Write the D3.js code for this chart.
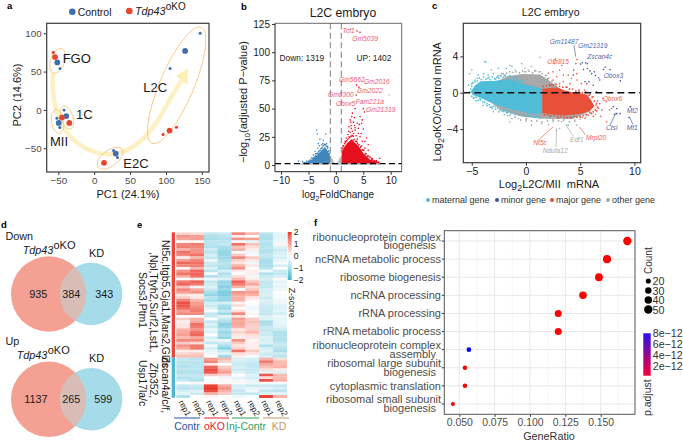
<!DOCTYPE html>
<html><head><meta charset="utf-8">
<script src="https://cdn.jsdelivr.net/npm/d3@7"></script>
<style>html,body{margin:0;padding:0;background:#fff}svg{display:block}text{font-family:"Liberation Sans",Arial,sans-serif}</style>
</head><body><svg id="c" width="683" height="444"></svg>
<script>
// ---------- panel a : PCA ----------
const pcaXTicks=[-50,0,50,100,150], pcaYTicks=[-50,0,50,100];
const ctrlBig=[[-51.4,62],[126.7,77],[-39,-8],[-49.5,-17],[30,-57]];
const ctrlSmall=[[-47.7,54],[147.7,100],[105.8,54],[-42,0],[-52,-11],[-48,-23],[27,-53],[32.5,-62]];
const okoBig=[[-54.6,69],[105,-27],[-34.7,-17],[-45,-10],[13.7,-69]];
const okoSmall=[[-57,75],[96,-32],[114.6,-22.6]];
const pcaTrail=[[-57.9,48.7],[-56,13],[-45.3,-19.6],[-19.8,-45.7],[17.4,-57.8],[54.7,-47.8],[82.6,-21.7],[110.5,21.7],[122,39]];
const pcaHead=[[130.5,54.3],[114.2,44.3],[130,32.6]];
const pcaStages=[["FGO",-44,61],["1C",-25.3,-11.8],["L2C",68.5,23.9],["MII",-61.6,-46.6],["E2C",40.6,-75.3]];
const pcaRings=[[-51,64,7,13,20],[-38,-10,6,12,-18],[-51,-15,6,12,-8],[22,-63,15,8,-37],[115,32,17,63,23]];
// ---------- panel b : volcano ----------
const volXTicks=[-10,-5,0,5,10], volYTicks=[0,25,50,75,100,125];
const volGrayArea=[[-6.5,0.2],[-6.5,1.3],[-1,1.3],[-0.8,8],[-0.4,3],[0,0.6],[0.4,3],[0.8,8],[1,1.3],[8,1.3],[8,0.2]];
const volBlueArea=[[-1,1.3],[-1.05,8],[-1.4,12],[-2,16],[-2.6,13],[-3.5,8.5],[-4.3,4.5],[-5.2,2.2],[-6.2,1.3]];
const volRedArea=[[1,1.3],[1.07,11],[1.4,15],[2,19],[2.9,23],[3.4,20],[4.1,17],[5,10.5],[6.2,5],[7.8,2.2],[8,1.3]];
const volBluePts=[[-3.5,31],[-3.4,27.5],[-1.85,27.5],[-2.9,23],[-2.3,22],[-3.2,19],[-2.6,18],[-1.7,19],[-3.3,15],[-3.8,12],[-4.1,9],[-4.7,4.5],[-6.8,3.5],[-6.1,3],[-5.3,3.5],[-5,2],[-3,17],[-2.4,19],[-1.5,16.5],[-3.7,10],[-4.4,6.5],[-5.7,2.2],[-4.9,3.8]];
const volBlueEdge=[[-1.15,10],[-1.3,12.5],[-1.5,15],[-1.7,16.5],[-1.9,18],[-2.1,18.2],[-2.3,17],[-2.5,15.5],[-2.7,14.5],[-2.9,13],[-3.1,12],[-3.3,10.5],[-3.5,10],[-3.7,8],[-3.9,7],[-4.1,6.2],[-4.3,5.5],[-4.5,4.2],[-4.7,3.3],[-5,2.8],[-5.4,2.3],[-5.8,1.8]];
const volRedPts=[[3.87,118.8],[4.4,117.6],[3.8,71],[4.2,69],[3.7,62],[3.5,50],[3,46],[5,50],[5.2,47],[3.4,42],[4.4,43],[2.9,43],[4.8,40],[2.6,40],[3.2,38],[2.8,35],[3.4,35],[4.7,37],[2.8,32.5],[3.5,31],[4.1,32.5],[5,32],[3.2,28],[4.4,25],[5.3,21],[5.9,18],[5.9,13],[5.6,24],[4.8,21],[5.3,15],[6.5,6],[8,6],[7.2,3],[3.8,21],[4.1,28],[2.4,34],[2.2,27],[2.6,29],[3,30],[3.7,26],[4.6,28],[4.7,17],[5.1,13],[1.7,21],[1.9,24],[1.3,17],[2.4,25],[3.2,25.5],[3.9,23],[6.7,5.5],[7.4,4],[6,8],[5.5,10],[3.5,33],[2.7,38],[4.3,36],[3.9,37],[2.3,30]];
const volRedEdge=[[1.1,13],[1.2,15],[1.4,17],[1.6,19],[1.8,20.5],[2,21.5],[2.2,23],[2.5,24.5],[2.8,25.5],[3,26],[3.3,22.5],[3.6,21],[3.9,19.5],[4.2,18],[4.5,16],[4.8,13.5],[5,13],[5.4,10],[5.8,8],[6.2,7],[6.6,5],[7,4],[7.4,3.2],[7.8,2.5]];
const volCyanPts=[[9.7,62]];
const volDownLabel="Down: 1319", volUpLabel="UP: 1402";
const volGenes=[["Tcf1",1.2,116.7],["Gm5039",3.0,110],["Gm5662",0.58,73.3],["Gm2016",5.14,71.8],["Gm2022",3.87,63.5],["Gm8300",-1.42,60],["Obox5",0,52],["Fam221a",3.62,54],["Gm21319",5.5,47.3]];
// ---------- panel c : MA ----------
const maXTicks=[-5,0,5,10], maYTicks=[-4,0,4];
const maGrayArea=[[-3,1.1],[-1.6,1.85],[-0.3,2.05],[1.3,2.0],[2.2,1.3],[3.2,0.4],[6,-2],[4.3,-2.9],[1.6,-2.85],[-0.3,-2.65],[-2.1,-2.0],[-3,-1.3]];
const maBlueArea=[[-5.1,0.1],[-4.7,0.8],[-4.2,1.25],[-3,1.3],[-1.5,1.5],[-0.3,1.0],[0.6,0.75],[1.45,0.45],[1.45,-2.35],[0.3,-2.3],[-0.3,-2.1],[-1.5,-1.8],[-3,-1.25],[-4.2,-0.55],[-4.9,-0.25]];
const maRedArea=[[1.5,0.45],[2.5,0.55],[2.8,0.6],[3.6,0.25],[4.3,0.05],[5.6,-0.2],[6,-0.8],[6.3,-1.5],[5.9,-2],[5,-2.35],[3.5,-2.5],[1.5,-2.25]];
const maCyanPts=[[-3.7,3.4],[-3.8,3.4],[-5,2.5],[-5.2,2.1],[-4.4,1.94],[-3.2,2.5],[-2.55,2.7],[-1.8,2.7],[-1.5,3],[-1.3,2.9],[-2.25,2.1],[-1.94,1.94],[-3,2.1],[-3.5,1.94],[-3.9,2.1],[-4.7,1.4],[-5.3,0.84],[-5.2,0.1],[-4.86,-0.6],[-4.24,-0.63],[-3.94,-1.4],[-3.6,-1.2],[-3,-2.1],[-2.86,-1.55],[-2.1,-2.1],[-1.2,-1.9],[2.8,-4.1],[3.75,-3.57],[-4.5,1.6],[-3.4,1.7],[-2.6,1.8],[-4.9,-0.1],[-4.6,-0.9],[-3.3,-1.6],[-2.4,-1.9],[-1.7,-2.2],[-0.8,-2.4],[-5,1],[-3.1,-1.7],[-2,1.9],[-1,1.8]];
const maCyanEdge=[[-5.1,0.4],[-5,0.7],[-4.9,1.1],[-4.7,1.2],[-4.5,1.3],[-4.3,1.6],[-4.1,1.45],[-3.9,1.7],[-3.7,1.5],[-3.5,1.6],[-3.3,1.45],[-3.1,1.75],[-2.9,1.55],[-2.7,1.7],[-2.5,1.6],[-2.3,1.85],[-2.1,1.7],[-1.9,1.8],[-1.7,1.7],[-1.5,1.85],[-1.3,1.7],[-1.1,1.5],[-0.9,1.55],[-0.7,1.3],[-0.5,1.35],[-0.3,1.25],[-5,-0.4],[-4.8,-0.55],[-4.6,-0.5],[-4.4,-0.85],[-4.2,-0.8],[-4,-1],[-3.8,-1.05],[-3.6,-1.4],[-3.4,-1.3],[-3.2,-1.6],[-3,-1.5],[-2.8,-1.8],[-2.6,-1.7],[-2.4,-1.85],[-2.2,-2],[-2,-1.95],[-1.8,-2.2],[-1.6,-2.05],[-1.4,-2.3],[-1.2,-2.15],[-1,-2.4],[-0.8,-2.3],[-0.6,-2.45],[-0.4,-2.5],[-0.2,-2.4],[0,-2.6],[0.2,-2.5],[0.4,-2.6],[0.6,-2.55],[0.8,-2.7],[1,-2.55],[1.2,-2.7]];
const maGrayPts=[[1.3,3.9],[-0.1,2.7],[0.2,2.5],[-0.1,2.3],[-1,2.5],[1.3,2.3],[-1.3,-2.84],[-1.5,-3.2],[0.5,-3.57],[1.3,-2.84],[1.45,-3.4],[2.5,-3.2],[3.1,-3.94],[3.9,-3.57],[4.7,-3.57],[-0.7,-2.84],[0.06,-2.84],[0.8,2.4],[1.9,1.9],[-0.4,3.2],[0.5,2.9],[-1.7,-2.5],[2.1,-3.5],[5,-2.9],[5.5,-2.7],[5.7,-1.9],[6.4,-2.4],[4.5,-3],[3.3,-3.2],[0,-3.1]];
const maGrayEdge=[[-2.8,1.5],[-2.5,1.9],[-2.1,2.1],[-1.8,2.15],[-1.5,2.3],[-1.2,2.25],[-0.9,2.3],[-0.6,2.2],[-0.3,2.4],[0,2.3],[0.3,2.35],[0.6,2.2],[0.9,2.4],[1.2,2.3],[1.5,2.1],[1.8,1.9],[2.1,1.6],[2.4,1.3],[2.7,1],[-2.5,-2.1],[-2,-2.4],[-1.5,-2.5],[-1,-2.7],[-0.5,-3],[0,-2.95],[0.5,-3.1],[1,-3.1],[1.5,-3.2],[2,-3.1],[2.5,-3],[3,-3.1],[3.5,-3],[4,-3.2],[4.5,-3.1],[5,-2.7],[5.5,-2.4],[6,-2.2]];
const maRedPts=[[4.7,3.66],[4.6,3.2],[7.9,-1.74],[7.7,-1.9],[7.44,-3.2],[7.4,-1],[7.1,-0.64],[6.8,-1.2],[7,-1.9],[6.7,-1.74],[6.2,-0.45],[6.46,-1.37],[6,-1.56],[5.75,-2.47],[5.44,-2.84],[6.06,-2.3],[9.66,-1.55],[5.6,1],[5.1,1],[2.06,2.13],[2.5,2.3],[3.1,2.5],[3.45,1.94],[2.83,1.76],[3.9,1.94],[4.2,1.6],[4.7,1.4],[3.45,1.2],[2.5,1.4],[3.1,1],[4.06,1],[4.7,2.1],[2.37,0.84],[2,1.5],[2.2,0.9],[3.8,0.6],[4.9,0.3],[5.4,0.3],[5.9,-0.2],[6.6,-0.9],[6.5,-2],[5.2,-2.7],[4.2,-2.8],[3,-2.8],[2.2,-2.6],[2.7,3.7],[2.6,3.2],[3.3,3],[6.2,-2.6],[6.9,-2.6]];
const maRedEdge=[[1.6,0.7],[1.9,0.75],[2.2,0.8],[2.5,0.8],[2.8,0.9],[3.1,0.7],[3.4,0.6],[3.7,0.6],[4,0.4],[4.3,0.4],[4.6,0.2],[4.9,0.2],[5.2,0],[5.5,0.1],[5.8,-0.3],[6.1,-0.5],[6.3,-0.9],[6.5,-1.2],[6.6,-1.6],[6.4,-1.9],[6.2,-2.1],[5.9,-2.2],[5.6,-2.4],[5.3,-2.5],[5,-2.6],[4.7,-2.7],[4.4,-2.6],[4.1,-2.7],[3.8,-2.75],[3.5,-2.7],[3.2,-2.6],[2.9,-2.6],[2.6,-2.45],[2.3,-2.5],[2,-2.4],[1.7,-2.45]];
const maNavyPts=[[5.04,3.15],[5.2,3.3],[5.5,3.3],[5.66,3.2],[4.4,2.5],[5.3,2.56],[5.66,2.67],[5.9,2.4],[6.3,2.3],[6.06,2.1],[6.4,1.9],[6.7,1.64],[6.8,1.4],[7.3,2.8],[7.15,2.56],[7.75,2.56],[8.7,1.3],[4.37,1.94],[5.44,1.2],[5.8,1.2],[6.2,0.83],[6.5,0.1],[7.6,0],[8.6,0],[8.37,-1.74],[8.37,-2.3],[8.67,-2.3],[8.15,-2.4],[9.6,-1.55],[9.5,-2.73],[8.06,-1.55]];
const maGenes=[["Gm11487",2.2,5.66,"n"],["Gm21319",4.83,5.18,"n"],["Zscan4c",5.66,3.97,"n"],["Olfr815",1.97,3.38,"r"],["Obox3",7.17,1.91,"n"],["Obox6",7.08,-0.66,"r"],["Mt2",9.29,-1.99,"n"],["Mt1",9.29,-3.82,"n"],["Ctsl",7.38,-3.86,"n"],["Mrpl20",5.54,-4.93,"r"],["Edf1",4.06,-5.15,"g"],["Nt5c",0.68,-5.51,"r"],["Ndufa12",1.54,-6.32,"g"]];
const maLeaders=[[4.43,5.26,4.58,3.97,"n"],[7.75,-3.57,8.3,-2.2,"n"],[9.54,-2.65,9.85,-3.46,"n"],[5.5,-4.67,4.9,-3.75,"r"],[4.37,-4.78,3.75,-3.68,"g"],[1.14,-5.22,2.52,-3.75,"r"],[2.77,-5.96,2.83,-3.93,"g"]];
const maLegend=[["maternal gene","#4fbcd8"],["minor gene","#3f5596"],["major gene","#e8503a"],["other gene","#a8a8a8"]];
// ---------- panel d : Venn ----------
const vennDown=[935,384,343], vennUp=[1137,265,599];
// ---------- panel e : heatmap ----------
const heatCols=["rep1","rep2","rep1","rep2","rep1","rep2","rep1","rep2"];
const heatGroups=["Contr","oKO","Inj-Contr","KD"];
const heatUpGenes=["Nt5c,Itgb5,Gja1,Mars2,Gldc",",Npl,Ttyh2,Surf2,Lst1,","Socs3,Ptm1"];
const heatDownGenes=["Zscan4a/c/f,","Zfp352,","Usp17la/c"];
const heatRows=[
[0.5,0.4,-0.7,-0.6,1.3,0.8,-0.8,-0.3],[1.2,1.1,-0.9,-0.8,0.2,0.0,-0.9,-0.3],[1.0,1.1,-1.0,-0.9,1.2,1.1,-1.0,-0.3],[0.1,0.1,-0.8,-0.8,-0.1,-0.3,-0.8,-0.2],
[1.3,1.4,-0.8,-0.7,1.5,0.7,-0.9,0.1],[1.4,1.3,-0.9,-1.0,0.7,0.4,-0.8,-0.4],[0.9,1.2,-0.6,-1.1,0.9,0.2,-0.9,-0.6],[1.5,1.2,-0.8,-1.2,-0.1,-0.2,-0.9,-0.5],
[1.3,1.5,-0.5,-1.2,0.6,-0.1,-0.7,-0.4],[0.2,0.8,-0.7,-1.1,1.3,0.6,-0.8,-0.5],[1.1,1.3,-0.2,-1.0,0.5,0.3,-1.0,-0.3],[1.6,1.5,-0.6,-0.8,0.3,-0.2,-1.0,-0.1],
[1.3,1.4,-0.7,-0.9,0.9,0.3,-1.0,-0.5],[0.1,0.8,-0.4,-1.0,1.2,0.0,-0.8,0.0],[1.2,1.6,-0.8,-0.5,0.2,0.2,-0.2,-0.6],[1.5,1.6,-0.1,-0.9,-0.1,0.2,-0.9,-0.7],
[1.0,1.5,-0.9,-0.7,0.4,-0.2,-0.6,-0.5],[0.0,0.2,-0.2,-0.4,0.8,0.2,-0.5,0.1],[1.4,1.6,-0.7,-1.2,1.6,0.7,-0.7,-0.3],[1.6,1.4,-0.6,-1.1,1.4,1.0,-0.7,-0.2],
[0.7,0.1,-0.4,-1.3,0.9,0.4,-0.7,-0.3],[1.3,1.0,-0.7,-1.2,0.0,0.7,-0.5,-0.2],[1.1,1.2,-1.0,-1.4,1.2,1.1,-0.5,0.0],[0.3,0.2,-1.2,-1.4,1.0,0.9,-0.4,-0.1],
[0.6,0.3,-0.8,-1.2,0.9,0.3,-0.6,-0.1],[1.3,0.8,-1.0,-1.2,0.9,0.1,-0.4,-0.2],[1.8,1.1,-0.5,-0.5,0.1,0.0,-0.5,-0.2],[1.7,1.2,-0.6,-1.0,0.4,-0.1,-0.6,-0.4],
[1.5,1.3,-0.4,-1.1,0.0,-0.2,-0.6,-0.4],[1.1,1.4,-0.1,-0.7,0.4,-0.1,-0.7,-0.3],[1.3,1.3,-0.7,-1.1,1.3,0.1,-0.7,-0.5],[0.0,0.0,-0.6,-0.3,0.3,0.0,-0.4,-0.2],
[0.6,0.9,0.0,-0.7,1.1,0.6,-0.4,-0.3],[0.2,1.0,-0.7,-1.0,1.0,0.7,-1.0,-0.3],[0.3,1.5,-0.4,-1.3,1.0,0.6,-0.9,-0.3],[0.3,1.4,-0.6,-1.2,0.9,0.5,-0.7,-0.4],
[0.9,1.2,-0.3,-0.9,0.3,0.6,-0.7,-0.6],[1.0,1.5,-0.4,-1.1,0.5,0.8,-0.6,-0.9],[1.1,1.6,0.0,-1.0,0.3,0.4,-0.6,-0.9],[0.8,1.0,-0.5,-1.2,0.2,0.3,-0.4,-0.9],
[1.3,1.3,-0.3,-0.2,1.2,0.1,-0.5,-0.9],[0.6,0.4,-0.7,-0.6,0.6,0.2,-0.4,-0.7],[1.2,1.4,-0.2,-1.0,0.3,0.2,-0.9,-0.7],[1.0,1.4,-0.5,-1.3,0.5,0.2,-0.5,-0.8],
[0.2,0.2,-0.3,-0.6,1.5,0.6,-0.4,-1.0],[0.5,0.6,-0.2,-0.4,0.4,0.3,-0.6,-0.6],[0.7,0.7,0.0,-1.1,0.2,-0.1,-0.5,-0.8],
[-0.7,-0.8,1.1,0.8,-0.4,-0.5,0.9,0.4],[-0.8,-0.8,1.3,0.5,-0.5,-0.6,1.4,0.8],[-0.8,-0.8,0.3,0.0,-0.6,-0.7,1.0,0.8],[-0.9,-0.8,1.6,0.6,-0.5,-0.7,0.7,0.9],
[-0.8,-0.8,1.8,0.9,-0.6,-0.7,0.4,0.2],[-0.9,-0.9,1.7,1.1,-0.4,-0.6,-0.3,-0.4],[-0.7,-0.7,0.6,0.5,0.0,-0.4,1.7,0.8],[-0.9,-0.8,0.0,-0.2,-0.3,-0.5,0.4,0.8],
[-0.7,-0.9,-0.1,0.1,-0.2,-0.3,1.8,0.9],[0.0,0.1,0.1,-0.1,0.1,-0.2,-0.1,0.0],[-0.7,-0.6,1.9,1.0,-0.5,-0.6,-0.6,-0.7],[-0.8,-0.8,2.0,1.2,-0.5,-0.3,-0.4,-0.5],
[-0.5,-0.4,1.8,0.9,-0.7,-0.2,-0.7,-0.8],[-0.3,-0.6,0.9,0.6,-0.6,-0.7,-0.4,-0.3],[-0.9,0.0,0.1,0.0,-0.2,-0.1,1.9,0.9]];
// ---------- panel f : GO dotplot ----------
const goTerms=[["ribonucleoprotein complex","biogenesis"],["ncRNA metabolic process"],["ribosome biogenesis"],["ncRNA processing"],["rRNA processing"],["rRNA metabolic process"],["ribonucleoprotein complex","assembly"],["ribosomal large subunit","biogenesis"],["cytoplasmic translation"],["ribosomal small subunit","biogenesis"]];
const goRatio=[0.1689,0.1545,0.1488,0.1375,0.12,0.12,0.0568,0.054,0.054,0.0455];
const goCount=[50,46,44,41,36,36,17,16,16,13];
const goPadj=[1e-13,1e-13,1e-13,1e-13,2e-13,2e-13,8.5e-12,4e-13,3e-13,2e-13];
const goXTicks=[0.05,0.075,0.1,0.125,0.15];
const goXMinor=[0.0625,0.0875,0.1125,0.1375,0.1625];
const goCountLegend=[20,30,40,50];
const goPadjLegend=[2e-12,4e-12,6e-12,8e-12];

const svg=d3.select("#c");
function T(x,y,s,o={}){const e=svg.append("text").attr("x",x).attr("y",y).attr("font-size",o.fs||10).attr("fill",o.fill||"#1a1a1a")
  .attr("text-anchor",o.a||"start").text(s);
  if(o.i)e.attr("font-style","italic"); if(o.b)e.attr("font-weight","bold");
  if(o.r!=null)e.attr("transform",`rotate(${o.r} ${x} ${y})`); return e;}
function frame(X,Y,xt,yt,fs,col,fmt){
  const [x0,x1]=X.range(),[y1,y0]=Y.range();
  const ax=svg.append("g").attr("transform",`translate(0,${y1})`).call(d3.axisBottom(X).tickValues(xt).tickSize(3).tickPadding(2).tickFormat(fmt||null));
  const ay=svg.append("g").attr("transform",`translate(${x0},0)`).call(d3.axisLeft(Y).tickValues(yt).tickSize(3).tickPadding(2));
  [ax,ay].forEach(a=>{a.select(".domain").remove();a.selectAll("line").attr("stroke","#333");a.selectAll("text").attr("font-size",fs).attr("fill",col).attr("font-family",'"Liberation Sans",Arial,sans-serif');});
}
function border(X,Y){const [x0,x1]=X.range(),[y1,y0]=Y.range();
  svg.append("rect").attr("x",x0).attr("y",y0).attr("width",x1-x0).attr("height",y1-y0).attr("fill","none").attr("stroke","#3a3a3a").attr("stroke-width",1.2);}
function dots(data,X,Y,r,fill){svg.append("g").selectAll("circle").data(data).join("circle").attr("cx",d=>X(d[0])).attr("cy",d=>Y(d[1])).attr("r",r).attr("fill",fill);}
function area(data,X,Y,fill){svg.append("path").datum(data).attr("d",d3.line().x(d=>X(d[0])).y(d=>Y(d[1])).curve(d3.curveLinearClosed)).attr("fill",fill);}
[["a",7,9],["b",241,10],["c",432,9],["d",1,228],["e",137,228],["f",314,226]].forEach(d=>T(d[1],d[2],d[0],{fs:9.5,b:1,fill:"#000"}));

// --- a
{const X=d3.scaleLinear([-66.2,160],[46.7,209]),Y=d3.scaleLinear([-81,113],[172,23.3]);
 svg.append("path").datum(pcaTrail).attr("d",d3.line().x(d=>X(d[0])).y(d=>Y(d[1])).curve(d3.curveCatmullRom)).attr("fill","none").attr("stroke","#fdf1c4").attr("stroke-width",4.5);
 area(pcaHead,X,Y,"#fdeeb4");
 pcaRings.forEach(r=>svg.append("ellipse").attr("cx",0).attr("cy",0).attr("rx",r[2]).attr("ry",r[3]).attr("transform",`translate(${X(r[0])},${Y(r[1])}) rotate(${r[4]})`).attr("fill","none").attr("stroke","#f6c57c").attr("stroke-width",0.8));
 dots(ctrlSmall,X,Y,1.5,"#3d6fb0");dots(ctrlBig,X,Y,2.9,"#3d6fb0");dots(okoSmall,X,Y,1.6,"#e8452f");dots(okoBig,X,Y,2.9,"#e8452f");
 frame(X,Y,pcaXTicks,pcaYTicks,9.8,"#4d4d4d");border(X,Y);
 pcaStages.forEach(s=>T(X(s[1]),Y(s[2]),s[0],{fs:13}));
 svg.append("circle").attr("cx",72.3).attr("cy",11.7).attr("r",3.3).attr("fill","#3d6fb0");
 T(77.7,15.5,"Control",{fs:10.5});
 svg.append("circle").attr("cx",129.3).attr("cy",11).attr("r",3.3).attr("fill","#e8452f");
 T(135,14.5,"Tdp43",{fs:10.8,i:1});T(165.7,9.5,"oKO",{fs:10});
 T(128,198,"PC1 (24.1%)",{fs:11,a:"middle"});T(21,95,"PC2 (14.6%)",{fs:11,a:"middle",r:-90});
}
// --- b
{const X=d3.scaleLinear([-11.1,12],[275,401.7]),Y=d3.scaleLinear([-5.9,125.6],[171.7,23.3]);
 area(volGrayArea,X,Y,"#bdbdbd");area(volBlueArea,X,Y,"#3f86bf");area(volRedArea,X,Y,"#e60f1e");
 dots(volBluePts,X,Y,0.8,"#3f86bf");dots(volBlueEdge,X,Y,0.9,"#3f86bf");dots(volRedPts,X,Y,0.8,"#e60f1e");dots(volRedEdge,X,Y,0.9,"#e60f1e");dots(volCyanPts,X,Y,0.8,"#63c6e8");
 [-1,1].forEach(v=>svg.append("line").attr("x1",X(v)).attr("x2",X(v)).attr("y1",23.3).attr("y2",171.7).attr("stroke","#999").attr("stroke-width",1.3).attr("stroke-dasharray","6 3.5"));
 svg.append("line").attr("x1",275).attr("x2",401.7).attr("y1",Y(1.3)).attr("y2",Y(1.3)).attr("stroke","#000").attr("stroke-width",1.3).attr("stroke-dasharray","6 3.5");
 frame(X,Y,volXTicks,volYTicks,10,"#1a1a1a");
 svg.append("path").attr("d","M275,23.3V171.7H401.7").attr("fill","none").attr("stroke","#222").attr("stroke-width",1);
 svg.append("path").attr("d","M275,23.3H401.7V171.7").attr("fill","none").attr("stroke","#444").attr("stroke-width",0.8);
 T(343,16.7,"L2C embryo",{fs:12.2,a:"middle"});
 T(279.5,60.7,volDownLabel,{fs:8.4});T(356.5,60.7,volUpLabel,{fs:8.4});
 volGenes.forEach(g=>T(X(g[1]),Y(g[2]),g[0],{fs:6.7,i:1,fill:"#f0566d"}));
 const yl=T(247,102,"",{fs:11,a:"middle",r:-90});
 yl.append("tspan").text("−log");yl.append("tspan").attr("dy",3).attr("font-size",8).text("10");yl.append("tspan").attr("dy",-3).text("(adjusted P−value)");
 const xl=T(338,198,"",{fs:10,a:"middle"});
 xl.append("tspan").text("log");xl.append("tspan").attr("dy",2.5).attr("font-size",7.5).text("2");xl.append("tspan").attr("dy",-2.5).text("FoldChange");
}
// --- c
{const X=d3.scaleLinear([-5.78,10.58],[463.3,640.7]),Y=d3.scaleLinear([-7.7,7.64],[162.7,23.3]);
 const col={n:"#5566a5",r:"#ee6450",g:"#a9a9a9"};
 area(maGrayArea,X,Y,"#a8a8a8");dots(maGrayPts,X,Y,0.8,"#a8a8a8");dots(maGrayEdge,X,Y,0.9,"#a8a8a8");
 area(maBlueArea,X,Y,"#4fbcd8");dots(maCyanPts,X,Y,0.8,"#4fbcd8");dots(maCyanEdge,X,Y,0.9,"#4fbcd8");
 area(maRedArea,X,Y,"#e8503a");dots(maRedPts,X,Y,0.8,"#e8503a");dots(maRedEdge,X,Y,0.9,"#e8503a");
 dots(maNavyPts,X,Y,0.8,"#3f5596");
 svg.append("line").attr("x1",463.3).attr("x2",640.7).attr("y1",Y(0)).attr("y2",Y(0)).attr("stroke","#111").attr("stroke-width",1.4).attr("stroke-dasharray","7 4");
 maLeaders.forEach(l=>svg.append("line").attr("x1",X(l[0])).attr("y1",Y(l[1])).attr("x2",X(l[2])).attr("y2",Y(l[3])).attr("stroke",col[l[4]]).attr("stroke-width",0.7));
 frame(X,Y,maXTicks,maYTicks,10.5,"#1a1a1a");border(X,Y);
 maGenes.forEach(g=>T(X(g[1]),Y(g[2])+2.4,g[0],{fs:6.6,i:1,fill:col[g[3]]}));
 T(550.7,15.7,"L2C embryo",{fs:10.6,a:"middle"});
 const yl=T(441,101.7,"",{fs:11,a:"middle",r:-90});
 yl.append("tspan").text("Log");yl.append("tspan").attr("dy",3).attr("font-size",9).text("2");yl.append("tspan").attr("dy",-3).text("oKO/Control mRNA");
 const xl=T(549,188,"",{fs:11,a:"middle"});
 xl.append("tspan").text("Log");xl.append("tspan").attr("dy",3).attr("font-size",9).text("2");xl.append("tspan").attr("dy",-3).text("L2C/MII\u00a0\u00a0mRNA");
 const lx=[428,497,552,608];
 maLegend.forEach((d,i)=>{svg.append("circle").attr("cx",lx[i]).attr("cy",200).attr("r",2).attr("fill",d[1]);T(lx[i]+4,203,d[0],{fs:9,fill:"#333"});});
}
// --- d
function venn(cy,vals,tx){const id="v"+Math.round(cy);
 svg.append("clipPath").attr("id",id).append("circle").attr("cx",48.7).attr("cy",cy).attr("r",37.7);
 svg.append("circle").attr("cx",48.7).attr("cy",cy).attr("r",37.7).attr("fill","#f4a093");
 svg.append("circle").attr("cx",91.2).attr("cy",cy).attr("r",31.2).attr("fill","#a6dcea");
 svg.append("circle").attr("cx",91.2).attr("cy",cy).attr("r",31.2).attr("fill","#d8bcb6").attr("clip-path",`url(#${id})`);
 vals.forEach((v,i)=>T(tx[i],cy+3.7,v,{fs:10.8,a:"middle"}));
}
venn(294,vennDown,[38.3,71.3,104.3]);venn(399.3,vennUp,[35.8,71.3,103.3]);
T(5.5,240,"Down",{fs:10.8});T(5.5,345,"Up",{fs:10.8});
T(22.7,254,"Tdp43",{fs:10.8,i:1});T(53.5,249,"oKO",{fs:11});T(89,257,"KD",{fs:11});
T(16.7,359,"Tdp43",{fs:10.8,i:1});T(47.7,354,"oKO",{fs:11});T(89,362,"KD",{fs:11});
// --- e
{const X=d3.scaleBand(d3.range(8),[176.3,286.7]),Y=d3.scaleBand(d3.range(heatRows.length),[232.3,397.7]);
 const C=d3.scaleLinear([-2,-1,0,1,2],["#48b4d0","#a9deeb","#ffffff","#f7a99e","#e8392e"]);
 svg.append("g").selectAll("g").data(heatRows).join("g").selectAll("rect").data((d,i)=>d.map((v,j)=>({v,i,j}))).join("rect")
  .attr("x",d=>X(d.j)).attr("y",d=>Y(d.i)).attr("width",X.bandwidth()+.3).attr("height",Y.bandwidth()+.3).attr("fill",d=>C(d.v));
 const split=Y(47);
 svg.append("rect").attr("x",171.7).attr("y",232.3).attr("width",3.3).attr("height",split-232.3).attr("fill","#e8473a");
 svg.append("rect").attr("x",171.7).attr("y",split).attr("width",3.3).attr("height",397.7-split).attr("fill","#4fb6d2");
 heatUpGenes.forEach((g,i)=>T([161.5,149.5,139][i],[240,252,272][i],g,{fs:10.4,r:90}));
 heatDownGenes.forEach((g,i)=>T([161.5,149.5,139][i],[356.5,363,360][i],g,{fs:10.4,r:90}));
 heatCols.forEach((c,i)=>T(X(i)+2,402,c,{fs:8.5,r:62}));
 const gx=[[174,200],[204,229],[232,259],[263,289]],gc=["#2e4fa3","#e8222a","#2fa05a","#c19a6b"],tx=[187,214.5,246,279];
 heatGroups.forEach((g,i)=>{svg.append("line").attr("x1",gx[i][0]).attr("x2",gx[i][1]).attr("y1",418).attr("y2",418).attr("stroke",gc[i]).attr("stroke-width",1);
  T(tx[i],430,g,{fs:10.4,a:"middle",fill:gc[i]});});
 const lg=svg.append("defs").append("linearGradient").attr("id","hl").attr("x1",0).attr("x2",0).attr("y1",1).attr("y2",0);
 d3.range(-2,2.01,.5).forEach(v=>lg.append("stop").attr("offset",(v+2)/4).attr("stop-color",C(v)));
 svg.append("rect").attr("x",287.7).attr("y",232).attr("width",4).attr("height",48).attr("fill","url(#hl)");
 [2,1,0,-1,-2].forEach((v,i)=>T(293.7,235+i*12,v===0?"0":(v<0?"−"+(-v):v),{fs:8.5}));
 T(289,287.7,"Z-score",{fs:8.9,r:90});
}
// --- f
{const X=d3.scaleLinear([0.0394,0.1743],[444.3,635]),Y=d3.scalePoint(d3.range(10),[230.7,414.3]).padding(0.57);
 goXMinor.forEach(v=>svg.append("line").attr("x1",X(v)).attr("x2",X(v)).attr("y1",230.7).attr("y2",414.3).attr("stroke","#f0f0f0").attr("stroke-width",0.6));
 goXTicks.forEach(v=>svg.append("line").attr("x1",X(v)).attr("x2",X(v)).attr("y1",230.7).attr("y2",414.3).attr("stroke","#e8e8e8").attr("stroke-width",1));
 goTerms.forEach((t,i)=>svg.append("line").attr("x1",444.3).attr("x2",635).attr("y1",Y(i)).attr("y2",Y(i)).attr("stroke","#e8e8e8").attr("stroke-width",1));
 const R=d3.scaleSqrt([13,50],[2,4.2]);
 const C=d3.scaleLinear([1e-13,8.5e-12],["#ff0000","#0000ff"]);
 svg.append("g").selectAll("circle").data(goRatio).join("circle").attr("cx",d=>X(d)).attr("cy",(d,i)=>Y(i)).attr("r",(d,i)=>R(goCount[i])).attr("fill",(d,i)=>C(goPadj[i]));
 const ax=svg.append("g").attr("transform","translate(0,414.3)").call(d3.axisBottom(X).tickValues(goXTicks).tickSize(2.5).tickPadding(2).tickFormat(d3.format(".3f")));
 ax.select(".domain").remove();ax.selectAll("line").attr("stroke","#333");ax.selectAll("text").attr("font-size",10.4).attr("fill","#4d4d4d").attr("font-family",'"Liberation Sans",Arial,sans-serif');
 goTerms.forEach((t,i)=>{svg.append("line").attr("x1",441.8).attr("x2",444.3).attr("y1",Y(i)).attr("y2",Y(i)).attr("stroke","#333");
  if(t.length===1)T(441,Y(i)+3.8,t[0],{fs:11,a:"end",fill:"#4d4d4d"});
  else{const e=T(441,Y(i)-0.5,"",{fs:11,a:"end",fill:"#4d4d4d"});
   e.append("tspan").attr("x",441).text(t[0]);e.append("tspan").attr("x",436).attr("dy",8.7).text(t[1]);}});
 svg.append("rect").attr("x",444.3).attr("y",230.7).attr("width",190.7).attr("height",183.6).attr("fill","none").attr("stroke","#555").attr("stroke-width",1);
 T(549,440,"GeneRatio",{fs:10.8,a:"middle",fill:"#333"});
 T(651.7,274,"Count",{fs:10,r:-90,fill:"#333"});
 goCountLegend.forEach((c,i)=>{svg.append("circle").attr("cx",648.3).attr("cy",281+i*9.5).attr("r",R(c)).attr("fill","#000");T(652.5,285+i*9.5,c,{fs:10.8,fill:"#333"});});
 const lg=svg.append("defs").append("linearGradient").attr("id","gl").attr("x1",0).attr("x2",0).attr("y1",1).attr("y2",0);
 lg.append("stop").attr("offset",0).attr("stop-color","#ff0033");lg.append("stop").attr("offset",1).attr("stop-color","#2a10f0");
 svg.append("rect").attr("x",643.3).attr("y",333.3).attr("width",7.4).attr("height",42.4).attr("fill","url(#gl)");
 [8e-12,6e-12,4e-12,2e-12].forEach((v,i)=>T(652.7,337+i*11,(v/1e-12)+"e−12",{fs:10.7,fill:"#333"}));
 T(651,416,"p.adjust",{fs:10.5,r:-90,fill:"#333"});
}
</script></body></html>
